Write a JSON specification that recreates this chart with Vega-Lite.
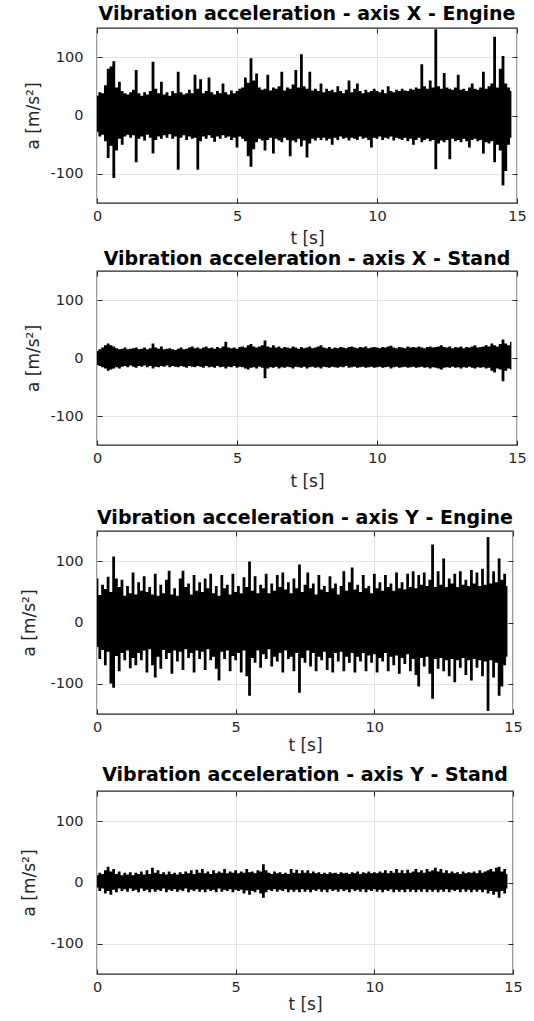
{
"$schema": "https://vega.github.io/schema/vega-lite/v6.json",
"background": "white",
"padding": {"left": 19, "top": 3, "right": 5, "bottom": 0},
"columns": 1,
"align": "none",
"spacing": 0,
"datasets": {
"XE": [
{"t":0.0,"lo":-28,"hi":34},{"t":0.1,"lo":-36,"hi":40},{"t":0.2,"lo":-33,"hi":38},{"t":0.3,"lo":-44,"hi":52},{"t":0.4,"lo":-73,"hi":80},{"t":0.5,"lo":-52,"hi":84},{"t":0.6,"lo":-107,"hi":93},{"t":0.7,"lo":-60,"hi":48},{"t":0.8,"lo":-40,"hi":58},{"t":0.9,"lo":-50,"hi":42},
{"t":1.0,"lo":-36,"hi":38},{"t":1.1,"lo":-33,"hi":36},{"t":1.2,"lo":-38,"hi":40},{"t":1.3,"lo":-34,"hi":44},{"t":1.4,"lo":-80,"hi":78},{"t":1.5,"lo":-40,"hi":38},{"t":1.6,"lo":-36,"hi":34},{"t":1.7,"lo":-43,"hi":40},{"t":1.8,"lo":-33,"hi":36},{"t":1.9,"lo":-38,"hi":42},
{"t":2.0,"lo":-65,"hi":92},{"t":2.1,"lo":-42,"hi":46},{"t":2.2,"lo":-36,"hi":38},{"t":2.3,"lo":-40,"hi":58},{"t":2.4,"lo":-34,"hi":36},{"t":2.5,"lo":-38,"hi":40},{"t":2.6,"lo":-32,"hi":34},{"t":2.7,"lo":-40,"hi":42},{"t":2.8,"lo":-36,"hi":38},{"t":2.9,"lo":-93,"hi":75},
{"t":3.0,"lo":-38,"hi":40},{"t":3.1,"lo":-34,"hi":36},{"t":3.2,"lo":-42,"hi":38},{"t":3.3,"lo":-36,"hi":44},{"t":3.4,"lo":-40,"hi":38},{"t":3.5,"lo":-38,"hi":70},{"t":3.6,"lo":-93,"hi":46},{"t":3.7,"lo":-44,"hi":62},{"t":3.8,"lo":-36,"hi":38},{"t":3.9,"lo":-40,"hi":42},
{"t":4.0,"lo":-34,"hi":65},{"t":4.1,"lo":-38,"hi":40},{"t":4.2,"lo":-45,"hi":36},{"t":4.3,"lo":-36,"hi":42},{"t":4.4,"lo":-40,"hi":38},{"t":4.5,"lo":-34,"hi":55},{"t":4.6,"lo":-38,"hi":40},{"t":4.7,"lo":-36,"hi":36},{"t":4.8,"lo":-42,"hi":43},{"t":4.9,"lo":-38,"hi":38},
{"t":5.0,"lo":-55,"hi":42},{"t":5.1,"lo":-36,"hi":46},{"t":5.2,"lo":-40,"hi":48},{"t":5.3,"lo":-44,"hi":65},{"t":5.4,"lo":-70,"hi":56},{"t":5.5,"lo":-88,"hi":98},{"t":5.6,"lo":-58,"hi":60},{"t":5.7,"lo":-46,"hi":72},{"t":5.8,"lo":-40,"hi":48},{"t":5.9,"lo":-43,"hi":44},
{"t":6.0,"lo":-60,"hi":46},{"t":6.1,"lo":-42,"hi":70},{"t":6.2,"lo":-38,"hi":43},{"t":6.3,"lo":-65,"hi":48},{"t":6.4,"lo":-40,"hi":46},{"t":6.5,"lo":-43,"hi":50},{"t":6.6,"lo":-46,"hi":75},{"t":6.7,"lo":-38,"hi":43},{"t":6.8,"lo":-42,"hi":48},{"t":6.9,"lo":-70,"hi":46},
{"t":7.0,"lo":-43,"hi":53},{"t":7.1,"lo":-46,"hi":78},{"t":7.2,"lo":-40,"hi":48},{"t":7.3,"lo":-53,"hi":105},{"t":7.4,"lo":-43,"hi":50},{"t":7.5,"lo":-72,"hi":46},{"t":7.6,"lo":-48,"hi":75},{"t":7.7,"lo":-40,"hi":43},{"t":7.8,"lo":-43,"hi":46},{"t":7.9,"lo":-38,"hi":42},
{"t":8.0,"lo":-42,"hi":55},{"t":8.1,"lo":-38,"hi":40},{"t":8.2,"lo":-43,"hi":46},{"t":8.3,"lo":-40,"hi":42},{"t":8.4,"lo":-50,"hi":44},{"t":8.5,"lo":-38,"hi":40},{"t":8.6,"lo":-42,"hi":50},{"t":8.7,"lo":-36,"hi":42},{"t":8.8,"lo":-40,"hi":38},{"t":8.9,"lo":-38,"hi":44},
{"t":9.0,"lo":-43,"hi":60},{"t":9.1,"lo":-38,"hi":40},{"t":9.2,"lo":-40,"hi":46},{"t":9.3,"lo":-42,"hi":55},{"t":9.4,"lo":-36,"hi":42},{"t":9.5,"lo":-40,"hi":38},{"t":9.6,"lo":-38,"hi":44},{"t":9.7,"lo":-42,"hi":40},{"t":9.8,"lo":-55,"hi":42},{"t":9.9,"lo":-38,"hi":46},
{"t":10.0,"lo":-40,"hi":42},{"t":10.1,"lo":-36,"hi":40},{"t":10.2,"lo":-42,"hi":44},{"t":10.3,"lo":-38,"hi":38},{"t":10.4,"lo":-40,"hi":50},{"t":10.5,"lo":-36,"hi":42},{"t":10.6,"lo":-43,"hi":40},{"t":10.7,"lo":-38,"hi":44},{"t":10.8,"lo":-40,"hi":42},{"t":10.9,"lo":-42,"hi":46},
{"t":11.0,"lo":-38,"hi":43},{"t":11.1,"lo":-44,"hi":42},{"t":11.2,"lo":-40,"hi":46},{"t":11.3,"lo":-50,"hi":44},{"t":11.4,"lo":-42,"hi":48},{"t":11.5,"lo":-38,"hi":46},{"t":11.6,"lo":-46,"hi":88},{"t":11.7,"lo":-42,"hi":50},{"t":11.8,"lo":-40,"hi":46},{"t":11.9,"lo":-44,"hi":60},
{"t":12.0,"lo":-42,"hi":48},{"t":12.1,"lo":-92,"hi":148},{"t":12.2,"lo":-48,"hi":50},{"t":12.3,"lo":-43,"hi":46},{"t":12.4,"lo":-46,"hi":73},{"t":12.5,"lo":-42,"hi":48},{"t":12.6,"lo":-75,"hi":46},{"t":12.7,"lo":-40,"hi":44},{"t":12.8,"lo":-44,"hi":48},{"t":12.9,"lo":-42,"hi":70},
{"t":13.0,"lo":-46,"hi":44},{"t":13.1,"lo":-40,"hi":46},{"t":13.2,"lo":-44,"hi":42},{"t":13.3,"lo":-55,"hi":48},{"t":13.4,"lo":-42,"hi":55},{"t":13.5,"lo":-40,"hi":46},{"t":13.6,"lo":-44,"hi":44},{"t":13.7,"lo":-42,"hi":48},{"t":13.8,"lo":-65,"hi":75},{"t":13.9,"lo":-46,"hi":46},
{"t":14.0,"lo":-48,"hi":50},{"t":14.1,"lo":-44,"hi":55},{"t":14.2,"lo":-80,"hi":135},{"t":14.3,"lo":-50,"hi":48},{"t":14.4,"lo":-60,"hi":80},{"t":14.5,"lo":-120,"hi":102},{"t":14.6,"lo":-95,"hi":55},{"t":14.7,"lo":-50,"hi":48},{"t":14.8,"lo":-38,"hi":42}
],
"XS": [
{"t":0.0,"lo":-12,"hi":12},{"t":0.1,"lo":-14,"hi":15},{"t":0.2,"lo":-16,"hi":18},{"t":0.3,"lo":-18,"hi":22},{"t":0.4,"lo":-22,"hi":25},{"t":0.5,"lo":-20,"hi":22},{"t":0.6,"lo":-18,"hi":20},{"t":0.7,"lo":-16,"hi":17},{"t":0.8,"lo":-18,"hi":15},{"t":0.9,"lo":-15,"hi":16},
{"t":1.0,"lo":-14,"hi":18},{"t":1.1,"lo":-16,"hi":15},{"t":1.2,"lo":-13,"hi":16},{"t":1.3,"lo":-15,"hi":17},{"t":1.4,"lo":-17,"hi":18},{"t":1.5,"lo":-14,"hi":15},{"t":1.6,"lo":-15,"hi":16},{"t":1.7,"lo":-13,"hi":18},{"t":1.8,"lo":-16,"hi":15},{"t":1.9,"lo":-14,"hi":17},
{"t":2.0,"lo":-18,"hi":25},{"t":2.1,"lo":-15,"hi":18},{"t":2.2,"lo":-16,"hi":16},{"t":2.3,"lo":-14,"hi":20},{"t":2.4,"lo":-15,"hi":15},{"t":2.5,"lo":-13,"hi":16},{"t":2.6,"lo":-16,"hi":17},{"t":2.7,"lo":-14,"hi":15},{"t":2.8,"lo":-15,"hi":14},{"t":2.9,"lo":-16,"hi":16},
{"t":3.0,"lo":-14,"hi":18},{"t":3.1,"lo":-15,"hi":15},{"t":3.2,"lo":-17,"hi":16},{"t":3.3,"lo":-14,"hi":18},{"t":3.4,"lo":-15,"hi":20},{"t":3.5,"lo":-16,"hi":17},{"t":3.6,"lo":-14,"hi":18},{"t":3.7,"lo":-15,"hi":16},{"t":3.8,"lo":-17,"hi":18},{"t":3.9,"lo":-14,"hi":20},
{"t":4.0,"lo":-16,"hi":17},{"t":4.1,"lo":-15,"hi":18},{"t":4.2,"lo":-17,"hi":16},{"t":4.3,"lo":-14,"hi":19},{"t":4.4,"lo":-16,"hi":17},{"t":4.5,"lo":-15,"hi":20},{"t":4.6,"lo":-18,"hi":28},{"t":4.7,"lo":-15,"hi":18},{"t":4.8,"lo":-16,"hi":17},{"t":4.9,"lo":-14,"hi":18},
{"t":5.0,"lo":-17,"hi":16},{"t":5.1,"lo":-15,"hi":19},{"t":5.2,"lo":-16,"hi":20},{"t":5.3,"lo":-18,"hi":18},{"t":5.4,"lo":-20,"hi":22},{"t":5.5,"lo":-17,"hi":24},{"t":5.6,"lo":-16,"hi":20},{"t":5.7,"lo":-18,"hi":18},{"t":5.8,"lo":-15,"hi":20},{"t":5.9,"lo":-17,"hi":22},
{"t":6.0,"lo":-35,"hi":30},{"t":6.1,"lo":-18,"hi":20},{"t":6.2,"lo":-16,"hi":18},{"t":6.3,"lo":-17,"hi":22},{"t":6.4,"lo":-15,"hi":18},{"t":6.5,"lo":-18,"hi":20},{"t":6.6,"lo":-16,"hi":17},{"t":6.7,"lo":-17,"hi":19},{"t":6.8,"lo":-15,"hi":18},{"t":6.9,"lo":-16,"hi":17},
{"t":7.0,"lo":-18,"hi":20},{"t":7.1,"lo":-15,"hi":18},{"t":7.2,"lo":-16,"hi":16},{"t":7.3,"lo":-17,"hi":19},{"t":7.4,"lo":-15,"hi":17},{"t":7.5,"lo":-18,"hi":18},{"t":7.6,"lo":-16,"hi":20},{"t":7.7,"lo":-15,"hi":17},{"t":7.8,"lo":-17,"hi":18},{"t":7.9,"lo":-16,"hi":20},
{"t":8.0,"lo":-18,"hi":22},{"t":8.1,"lo":-15,"hi":18},{"t":8.2,"lo":-16,"hi":17},{"t":8.3,"lo":-17,"hi":19},{"t":8.4,"lo":-15,"hi":16},{"t":8.5,"lo":-16,"hi":18},{"t":8.6,"lo":-17,"hi":17},{"t":8.7,"lo":-15,"hi":19},{"t":8.8,"lo":-16,"hi":18},{"t":8.9,"lo":-14,"hi":17},
{"t":9.0,"lo":-17,"hi":19},{"t":9.1,"lo":-16,"hi":20},{"t":9.2,"lo":-15,"hi":18},{"t":9.3,"lo":-17,"hi":17},{"t":9.4,"lo":-16,"hi":19},{"t":9.5,"lo":-15,"hi":18},{"t":9.6,"lo":-17,"hi":20},{"t":9.7,"lo":-16,"hi":17},{"t":9.8,"lo":-15,"hi":18},{"t":9.9,"lo":-17,"hi":19},
{"t":10.0,"lo":-16,"hi":18},{"t":10.1,"lo":-15,"hi":17},{"t":10.2,"lo":-17,"hi":19},{"t":10.3,"lo":-16,"hi":18},{"t":10.4,"lo":-15,"hi":20},{"t":10.5,"lo":-18,"hi":21},{"t":10.6,"lo":-16,"hi":18},{"t":10.7,"lo":-15,"hi":17},{"t":10.8,"lo":-17,"hi":19},{"t":10.9,"lo":-16,"hi":18},
{"t":11.0,"lo":-15,"hi":17},{"t":11.1,"lo":-17,"hi":20},{"t":11.2,"lo":-16,"hi":18},{"t":11.3,"lo":-15,"hi":19},{"t":11.4,"lo":-17,"hi":18},{"t":11.5,"lo":-16,"hi":20},{"t":11.6,"lo":-15,"hi":18},{"t":11.7,"lo":-17,"hi":17},{"t":11.8,"lo":-16,"hi":19},{"t":11.9,"lo":-18,"hi":20},
{"t":12.0,"lo":-16,"hi":18},{"t":12.1,"lo":-17,"hi":19},{"t":12.2,"lo":-18,"hi":20},{"t":12.3,"lo":-20,"hi":22},{"t":12.4,"lo":-17,"hi":19},{"t":12.5,"lo":-16,"hi":18},{"t":12.6,"lo":-17,"hi":20},{"t":12.7,"lo":-15,"hi":17},{"t":12.8,"lo":-17,"hi":19},{"t":12.9,"lo":-16,"hi":18},
{"t":13.0,"lo":-18,"hi":20},{"t":13.1,"lo":-16,"hi":17},{"t":13.2,"lo":-17,"hi":19},{"t":13.3,"lo":-15,"hi":18},{"t":13.4,"lo":-17,"hi":20},{"t":13.5,"lo":-18,"hi":22},{"t":13.6,"lo":-16,"hi":18},{"t":13.7,"lo":-17,"hi":19},{"t":13.8,"lo":-16,"hi":20},{"t":13.9,"lo":-18,"hi":22},
{"t":14.0,"lo":-17,"hi":20},{"t":14.1,"lo":-22,"hi":25},{"t":14.2,"lo":-25,"hi":22},{"t":14.3,"lo":-18,"hi":20},{"t":14.4,"lo":-20,"hi":24},{"t":14.5,"lo":-40,"hi":32},{"t":14.6,"lo":-22,"hi":25},{"t":14.7,"lo":-18,"hi":22},{"t":14.8,"lo":-20,"hi":28}
],
"YE": [
{"t":0.0,"lo":-40,"hi":72},{"t":0.1,"lo":-60,"hi":45},{"t":0.2,"lo":-45,"hi":62},{"t":0.3,"lo":-70,"hi":55},{"t":0.4,"lo":-48,"hi":75},{"t":0.5,"lo":-100,"hi":50},{"t":0.6,"lo":-107,"hi":108},{"t":0.7,"lo":-55,"hi":72},{"t":0.8,"lo":-80,"hi":58},{"t":0.9,"lo":-50,"hi":70},
{"t":1.0,"lo":-62,"hi":44},{"t":1.1,"lo":-46,"hi":60},{"t":1.2,"lo":-75,"hi":48},{"t":1.3,"lo":-58,"hi":82},{"t":1.4,"lo":-70,"hi":46},{"t":1.5,"lo":-50,"hi":66},{"t":1.6,"lo":-62,"hi":52},{"t":1.7,"lo":-46,"hi":76},{"t":1.8,"lo":-82,"hi":50},{"t":1.9,"lo":-44,"hi":58},
{"t":2.0,"lo":-70,"hi":46},{"t":2.1,"lo":-90,"hi":80},{"t":2.2,"lo":-56,"hi":44},{"t":2.3,"lo":-76,"hi":62},{"t":2.4,"lo":-45,"hi":48},{"t":2.5,"lo":-60,"hi":70},{"t":2.6,"lo":-50,"hi":85},{"t":2.7,"lo":-84,"hi":46},{"t":2.8,"lo":-46,"hi":56},{"t":2.9,"lo":-64,"hi":44},
{"t":3.0,"lo":-48,"hi":72},{"t":3.1,"lo":-78,"hi":85},{"t":3.2,"lo":-44,"hi":58},{"t":3.3,"lo":-58,"hi":64},{"t":3.4,"lo":-50,"hi":46},{"t":3.5,"lo":-82,"hi":78},{"t":3.6,"lo":-46,"hi":52},{"t":3.7,"lo":-60,"hi":66},{"t":3.8,"lo":-48,"hi":50},{"t":3.9,"lo":-78,"hi":72},
{"t":4.0,"lo":-44,"hi":56},{"t":4.1,"lo":-62,"hi":80},{"t":4.2,"lo":-56,"hi":48},{"t":4.3,"lo":-76,"hi":60},{"t":4.4,"lo":-95,"hi":44},{"t":4.5,"lo":-48,"hi":78},{"t":4.6,"lo":-60,"hi":56},{"t":4.7,"lo":-46,"hi":62},{"t":4.8,"lo":-80,"hi":46},{"t":4.9,"lo":-55,"hi":80},
{"t":5.0,"lo":-62,"hi":50},{"t":5.1,"lo":-50,"hi":60},{"t":5.2,"lo":-82,"hi":48},{"t":5.3,"lo":-46,"hi":74},{"t":5.4,"lo":-88,"hi":58},{"t":5.5,"lo":-120,"hi":100},{"t":5.6,"lo":-58,"hi":52},{"t":5.7,"lo":-66,"hi":76},{"t":5.8,"lo":-46,"hi":48},{"t":5.9,"lo":-74,"hi":62},
{"t":6.0,"lo":-52,"hi":56},{"t":6.1,"lo":-60,"hi":80},{"t":6.2,"lo":-44,"hi":48},{"t":6.3,"lo":-72,"hi":64},{"t":6.4,"lo":-56,"hi":52},{"t":6.5,"lo":-64,"hi":78},{"t":6.6,"lo":-50,"hi":58},{"t":6.7,"lo":-82,"hi":82},{"t":6.8,"lo":-46,"hi":54},{"t":6.9,"lo":-60,"hi":66},
{"t":7.0,"lo":-56,"hi":48},{"t":7.1,"lo":-80,"hi":72},{"t":7.2,"lo":-50,"hi":56},{"t":7.3,"lo":-115,"hi":95},{"t":7.4,"lo":-58,"hi":50},{"t":7.5,"lo":-66,"hi":62},{"t":7.6,"lo":-46,"hi":82},{"t":7.7,"lo":-72,"hi":56},{"t":7.8,"lo":-50,"hi":64},{"t":7.9,"lo":-80,"hi":46},
{"t":8.0,"lo":-56,"hi":78},{"t":8.1,"lo":-62,"hi":54},{"t":8.2,"lo":-48,"hi":60},{"t":8.3,"lo":-78,"hi":50},{"t":8.4,"lo":-58,"hi":76},{"t":8.5,"lo":-82,"hi":56},{"t":8.6,"lo":-50,"hi":64},{"t":8.7,"lo":-64,"hi":46},{"t":8.8,"lo":-48,"hi":60},{"t":8.9,"lo":-80,"hi":84},
{"t":9.0,"lo":-56,"hi":52},{"t":9.1,"lo":-66,"hi":66},{"t":9.2,"lo":-50,"hi":90},{"t":9.3,"lo":-82,"hi":54},{"t":9.4,"lo":-56,"hi":62},{"t":9.5,"lo":-64,"hi":50},{"t":9.6,"lo":-50,"hi":78},{"t":9.7,"lo":-80,"hi":56},{"t":9.8,"lo":-54,"hi":60},{"t":9.9,"lo":-66,"hi":48},
{"t":10.0,"lo":-52,"hi":80},{"t":10.1,"lo":-82,"hi":56},{"t":10.2,"lo":-58,"hi":66},{"t":10.3,"lo":-64,"hi":52},{"t":10.4,"lo":-50,"hi":78},{"t":10.5,"lo":-80,"hi":58},{"t":10.6,"lo":-56,"hi":64},{"t":10.7,"lo":-70,"hi":52},{"t":10.8,"lo":-54,"hi":82},{"t":10.9,"lo":-84,"hi":56},
{"t":11.0,"lo":-58,"hi":66},{"t":11.1,"lo":-68,"hi":54},{"t":11.2,"lo":-52,"hi":80},{"t":11.3,"lo":-80,"hi":58},{"t":11.4,"lo":-60,"hi":84},{"t":11.5,"lo":-86,"hi":56},{"t":11.6,"lo":-105,"hi":78},{"t":11.7,"lo":-58,"hi":62},{"t":11.8,"lo":-72,"hi":82},{"t":11.9,"lo":-56,"hi":60},
{"t":12.0,"lo":-84,"hi":70},{"t":12.1,"lo":-125,"hi":128},{"t":12.2,"lo":-60,"hi":58},{"t":12.3,"lo":-76,"hi":84},{"t":12.4,"lo":-58,"hi":62},{"t":12.5,"lo":-80,"hi":105},{"t":12.6,"lo":-62,"hi":58},{"t":12.7,"lo":-88,"hi":72},{"t":12.8,"lo":-60,"hi":64},{"t":12.9,"lo":-98,"hi":80},
{"t":13.0,"lo":-62,"hi":58},{"t":13.1,"lo":-74,"hi":84},{"t":13.2,"lo":-58,"hi":62},{"t":13.3,"lo":-86,"hi":70},{"t":13.4,"lo":-62,"hi":60},{"t":13.5,"lo":-95,"hi":86},{"t":13.6,"lo":-60,"hi":64},{"t":13.7,"lo":-74,"hi":82},{"t":13.8,"lo":-62,"hi":60},{"t":13.9,"lo":-88,"hi":88},
{"t":14.0,"lo":-64,"hi":62},{"t":14.1,"lo":-145,"hi":140},{"t":14.2,"lo":-62,"hi":64},{"t":14.3,"lo":-90,"hi":84},{"t":14.4,"lo":-66,"hi":66},{"t":14.5,"lo":-120,"hi":105},{"t":14.6,"lo":-105,"hi":70},{"t":14.7,"lo":-70,"hi":80},{"t":14.8,"lo":-56,"hi":60}
],
"YS": [
{"t":0.0,"lo":-8,"hi":12},{"t":0.1,"lo":-14,"hi":16},{"t":0.2,"lo":-10,"hi":14},{"t":0.3,"lo":-18,"hi":20},{"t":0.4,"lo":-14,"hi":26},{"t":0.5,"lo":-20,"hi":18},{"t":0.6,"lo":-12,"hi":22},{"t":0.7,"lo":-16,"hi":14},{"t":0.8,"lo":-10,"hi":18},{"t":0.9,"lo":-14,"hi":12},
{"t":1.0,"lo":-11,"hi":16},{"t":1.1,"lo":-15,"hi":13},{"t":1.2,"lo":-10,"hi":17},{"t":1.3,"lo":-14,"hi":12},{"t":1.4,"lo":-12,"hi":16},{"t":1.5,"lo":-16,"hi":14},{"t":1.6,"lo":-10,"hi":18},{"t":1.7,"lo":-14,"hi":13},{"t":1.8,"lo":-12,"hi":20},{"t":1.9,"lo":-16,"hi":14},
{"t":2.0,"lo":-11,"hi":24},{"t":2.1,"lo":-15,"hi":16},{"t":2.2,"lo":-12,"hi":20},{"t":2.3,"lo":-14,"hi":14},{"t":2.4,"lo":-10,"hi":17},{"t":2.5,"lo":-16,"hi":13},{"t":2.6,"lo":-12,"hi":18},{"t":2.7,"lo":-14,"hi":14},{"t":2.8,"lo":-11,"hi":16},{"t":2.9,"lo":-15,"hi":13},
{"t":3.0,"lo":-12,"hi":17},{"t":3.1,"lo":-14,"hi":14},{"t":3.2,"lo":-10,"hi":18},{"t":3.3,"lo":-16,"hi":15},{"t":3.4,"lo":-12,"hi":20},{"t":3.5,"lo":-14,"hi":14},{"t":3.6,"lo":-11,"hi":21},{"t":3.7,"lo":-15,"hi":16},{"t":3.8,"lo":-12,"hi":22},{"t":3.9,"lo":-16,"hi":15},
{"t":4.0,"lo":-11,"hi":18},{"t":4.1,"lo":-14,"hi":14},{"t":4.2,"lo":-12,"hi":20},{"t":4.3,"lo":-16,"hi":15},{"t":4.4,"lo":-10,"hi":18},{"t":4.5,"lo":-15,"hi":16},{"t":4.6,"lo":-12,"hi":22},{"t":4.7,"lo":-14,"hi":15},{"t":4.8,"lo":-11,"hi":18},{"t":4.9,"lo":-16,"hi":16},
{"t":5.0,"lo":-12,"hi":20},{"t":5.1,"lo":-14,"hi":15},{"t":5.2,"lo":-12,"hi":18},{"t":5.3,"lo":-18,"hi":16},{"t":5.4,"lo":-13,"hi":22},{"t":5.5,"lo":-20,"hi":17},{"t":5.6,"lo":-14,"hi":18},{"t":5.7,"lo":-16,"hi":15},{"t":5.8,"lo":-12,"hi":20},{"t":5.9,"lo":-18,"hi":18},
{"t":6.0,"lo":-25,"hi":30},{"t":6.1,"lo":-16,"hi":20},{"t":6.2,"lo":-12,"hi":16},{"t":6.3,"lo":-14,"hi":14},{"t":6.4,"lo":-11,"hi":18},{"t":6.5,"lo":-15,"hi":15},{"t":6.6,"lo":-12,"hi":17},{"t":6.7,"lo":-14,"hi":14},{"t":6.8,"lo":-11,"hi":16},{"t":6.9,"lo":-16,"hi":14},
{"t":7.0,"lo":-12,"hi":22},{"t":7.1,"lo":-15,"hi":16},{"t":7.2,"lo":-12,"hi":21},{"t":7.3,"lo":-16,"hi":15},{"t":7.4,"lo":-11,"hi":20},{"t":7.5,"lo":-15,"hi":16},{"t":7.6,"lo":-12,"hi":20},{"t":7.7,"lo":-16,"hi":15},{"t":7.8,"lo":-12,"hi":18},{"t":7.9,"lo":-14,"hi":15},
{"t":8.0,"lo":-11,"hi":17},{"t":8.1,"lo":-15,"hi":14},{"t":8.2,"lo":-12,"hi":16},{"t":8.3,"lo":-16,"hi":14},{"t":8.4,"lo":-11,"hi":17},{"t":8.5,"lo":-14,"hi":15},{"t":8.6,"lo":-12,"hi":16},{"t":8.7,"lo":-15,"hi":14},{"t":8.8,"lo":-11,"hi":17},{"t":8.9,"lo":-14,"hi":15},
{"t":9.0,"lo":-12,"hi":16},{"t":9.1,"lo":-16,"hi":14},{"t":9.2,"lo":-11,"hi":17},{"t":9.3,"lo":-14,"hi":15},{"t":9.4,"lo":-12,"hi":18},{"t":9.5,"lo":-15,"hi":14},{"t":9.6,"lo":-11,"hi":17},{"t":9.7,"lo":-16,"hi":15},{"t":9.8,"lo":-12,"hi":18},{"t":9.9,"lo":-14,"hi":15},
{"t":10.0,"lo":-11,"hi":17},{"t":10.1,"lo":-15,"hi":15},{"t":10.2,"lo":-12,"hi":18},{"t":10.3,"lo":-16,"hi":16},{"t":10.4,"lo":-12,"hi":20},{"t":10.5,"lo":-14,"hi":15},{"t":10.6,"lo":-11,"hi":19},{"t":10.7,"lo":-16,"hi":16},{"t":10.8,"lo":-12,"hi":22},{"t":10.9,"lo":-15,"hi":16},
{"t":11.0,"lo":-12,"hi":20},{"t":11.1,"lo":-16,"hi":15},{"t":11.2,"lo":-11,"hi":21},{"t":11.3,"lo":-15,"hi":16},{"t":11.4,"lo":-12,"hi":18},{"t":11.5,"lo":-16,"hi":22},{"t":11.6,"lo":-12,"hi":17},{"t":11.7,"lo":-15,"hi":20},{"t":11.8,"lo":-11,"hi":16},{"t":11.9,"lo":-16,"hi":22},
{"t":12.0,"lo":-12,"hi":18},{"t":12.1,"lo":-15,"hi":20},{"t":12.2,"lo":-12,"hi":24},{"t":12.3,"lo":-16,"hi":18},{"t":12.4,"lo":-12,"hi":22},{"t":12.5,"lo":-15,"hi":16},{"t":12.6,"lo":-11,"hi":20},{"t":12.7,"lo":-16,"hi":15},{"t":12.8,"lo":-12,"hi":18},{"t":12.9,"lo":-14,"hi":15},
{"t":13.0,"lo":-12,"hi":17},{"t":13.1,"lo":-16,"hi":14},{"t":13.2,"lo":-11,"hi":18},{"t":13.3,"lo":-15,"hi":15},{"t":13.4,"lo":-12,"hi":17},{"t":13.5,"lo":-16,"hi":16},{"t":13.6,"lo":-12,"hi":18},{"t":13.7,"lo":-15,"hi":15},{"t":13.8,"lo":-12,"hi":20},{"t":13.9,"lo":-16,"hi":16},
{"t":14.0,"lo":-12,"hi":18},{"t":14.1,"lo":-18,"hi":20},{"t":14.2,"lo":-14,"hi":22},{"t":14.3,"lo":-20,"hi":18},{"t":14.4,"lo":-15,"hi":24},{"t":14.5,"lo":-25,"hi":26},{"t":14.6,"lo":-14,"hi":18},{"t":14.7,"lo":-18,"hi":22},{"t":14.8,"lo":-10,"hi":14}
]
},
"config": {
"font": "DejaVu Sans",
"view": {"stroke": "#262626", "strokeWidth": 1.3},
"axis": {"labelFont": "DejaVu Sans", "labelFontSize": 14.5, "labelColor": "#262626", "titleFont": "DejaVu Sans", "titleFontSize": 17, "titleFontWeight": "normal", "titleColor": "#262626", "gridColor": "#e3e3e3", "gridWidth": 1, "domain": false, "tickColor": "#262626", "tickSize": -5, "tickWidth": 1},
"axisX": {"labelPadding": 11, "titlePadding": 7, "labelFlush": false},
"axisY": {"labelPadding": 19, "titlePadding": 8},
"title": {"font": "DejaVu Sans", "fontSize": 19, "fontWeight": "bold", "color": "black", "anchor": "middle", "frame": "group", "offset": 4}
},
"concat": [
{
"title": {"text": "Vibration acceleration - axis X - Engine", "offset": 4},
"width": 420, "height": 175,
"data": {"name": "XE"},
"encoding": {
"x": {"field": "t", "type": "quantitative", "scale": {"domain": [0, 15], "nice": false}, "axis": {"values": [0, 5, 10, 15], "title": "t [s]", "titlePadding": 8}},
"y": {"field": "lo", "type": "quantitative", "scale": {"domain": [-150, 150], "nice": false}, "axis": {"values": [-100, 0, 100], "title": "a [m/s²]", "labelExpr": "'' + datum.value"}},
"y2": {"field": "hi"}
},
"layer": [
{"mark": {"type": "area", "color": "black", "opacity": 1, "interpolate": "step"}, "encoding": {}},
{"mark": {"type": "area", "opacity": 0}, "encoding": {
"x": {"field": "t", "type": "quantitative", "scale": {"domain": [0, 15], "nice": false}, "axis": {"orient": "top", "values": [0, 5, 10, 15], "labels": false, "title": null, "grid": false}},
"y": {"field": "lo", "type": "quantitative", "scale": {"domain": [-150, 150], "nice": false}, "axis": {"orient": "right", "values": [-100, 0, 100], "labels": false, "title": null, "grid": false}}}}
],
"resolve": {"axis": {"x": "independent", "y": "independent"}}
},
{
"title": {"text": "Vibration acceleration - axis X - Stand", "offset": 2},
"width": 420, "height": 174,
"data": {"name": "XS"},
"encoding": {
"x": {"field": "t", "type": "quantitative", "scale": {"domain": [0, 15], "nice": false}, "axis": {"values": [0, 5, 10, 15], "title": "t [s]", "titlePadding": 9}},
"y": {"field": "lo", "type": "quantitative", "scale": {"domain": [-150, 150], "nice": false}, "axis": {"values": [-100, 0, 100], "title": "a [m/s²]", "labelExpr": "'' + datum.value"}},
"y2": {"field": "hi"}
},
"layer": [
{"mark": {"type": "area", "color": "black", "opacity": 1, "interpolate": "step"}, "encoding": {}},
{"mark": {"type": "area", "opacity": 0}, "encoding": {
"x": {"field": "t", "type": "quantitative", "scale": {"domain": [0, 15], "nice": false}, "axis": {"orient": "top", "values": [0, 5, 10, 15], "labels": false, "title": null, "grid": false}},
"y": {"field": "lo", "type": "quantitative", "scale": {"domain": [-150, 150], "nice": false}, "axis": {"orient": "right", "values": [-100, 0, 100], "labels": false, "title": null, "grid": false}}}}
],
"resolve": {"axis": {"x": "independent", "y": "independent"}}
},
{
"title": {"text": ["", "Vibration acceleration - axis Y - Engine"], "offset": 3, "lineHeight": 16},
"width": 416, "height": 183,
"data": {"name": "YE"},
"encoding": {
"x": {"field": "t", "type": "quantitative", "scale": {"domain": [0, 15], "nice": false}, "axis": {"values": [0, 5, 10, 15], "title": "t [s]", "titlePadding": 4}},
"y": {"field": "lo", "type": "quantitative", "scale": {"domain": [-150, 150], "nice": false}, "axis": {"values": [-100, 0, 100], "title": "a [m/s²]", "titlePadding": 12, "labelExpr": "'' + datum.value"}},
"y2": {"field": "hi"}
},
"layer": [
{"mark": {"type": "area", "color": "black", "opacity": 1, "interpolate": "step"}, "encoding": {}},
{"mark": {"type": "area", "opacity": 0}, "encoding": {
"x": {"field": "t", "type": "quantitative", "scale": {"domain": [0, 15], "nice": false}, "axis": {"orient": "top", "values": [0, 5, 10, 15], "labels": false, "title": null, "grid": false}},
"y": {"field": "lo", "type": "quantitative", "scale": {"domain": [-150, 150], "nice": false}, "axis": {"orient": "right", "values": [-100, 0, 100], "labels": false, "title": null, "grid": false}}}}
],
"resolve": {"axis": {"x": "independent", "y": "independent"}}
},
{
"title": {"text": ["", "Vibration acceleration - axis Y - Stand"], "offset": 5.5, "lineHeight": 9.5},
"width": 416, "height": 183,
"data": {"name": "YS"},
"encoding": {
"x": {"field": "t", "type": "quantitative", "scale": {"domain": [0, 15], "nice": false}, "axis": {"values": [0, 5, 10, 15], "title": "t [s]", "titlePadding": 3}},
"y": {"field": "lo", "type": "quantitative", "scale": {"domain": [-150, 150], "nice": false}, "axis": {"values": [-100, 0, 100], "title": "a [m/s²]", "titlePadding": 12, "labelExpr": "'' + datum.value"}},
"y2": {"field": "hi"}
},
"layer": [
{"mark": {"type": "area", "color": "black", "opacity": 1, "interpolate": "step"}, "encoding": {}},
{"mark": {"type": "area", "opacity": 0}, "encoding": {
"x": {"field": "t", "type": "quantitative", "scale": {"domain": [0, 15], "nice": false}, "axis": {"orient": "top", "values": [0, 5, 10, 15], "labels": false, "title": null, "grid": false}},
"y": {"field": "lo", "type": "quantitative", "scale": {"domain": [-150, 150], "nice": false}, "axis": {"orient": "right", "values": [-100, 0, 100], "labels": false, "title": null, "grid": false}}}}
],
"resolve": {"axis": {"x": "independent", "y": "independent"}}
}
]
}
